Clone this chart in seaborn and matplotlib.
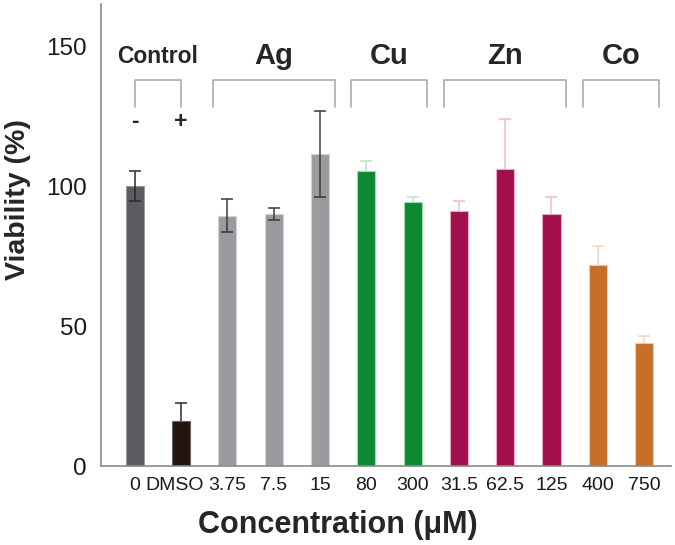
import matplotlib
matplotlib.use('Agg')
import matplotlib.pyplot as plt
import matplotlib.transforms as mtransforms
import pandas as pd
import seaborn as sns

# data
concentrations = ['0', 'DMSO', '3.75', '7.5', '15', '80', '300',
                  '31.5', '62.5', '125', '400', '750']
viability = [100, 16, 89.5, 90, 111.5, 105.5, 94.5, 91, 106, 90, 72, 44]
viability_sd = [5.3, 6.7, 6, 2.2, 15.5, 3.7, 1.5, 3.7, 18, 6, 6.7, 2.6]
group = ['Control', 'Control', 'Ag', 'Ag', 'Ag', 'Cu', 'Cu',
         'Zn', 'Zn', 'Zn', 'Co', 'Co']
group_names = ['Control', 'Ag', 'Cu', 'Zn', 'Co']
control_signs = ['-', '+']

bar_colors = ['#5d5c61', '#221510', '#9c9a9f', '#9c9a9f', '#9c9a9f',
              '#0d8931', '#0d8931', '#a30f4c', '#a30f4c', '#a30f4c',
              '#c66f29', '#c66f29']
edge_colors = ['#9a9a9e', '#6a605c', '#d2d1d4', '#d2d1d4', '#d2d1d4',
               '#a6d6b2', '#a6d6b2', '#e9a9c0', '#e9a9c0', '#e9a9c0',
               '#f2c9a6', '#f2c9a6']
err_colors = ['#2b2b2b', '#2b2b2b', '#3a3a3a', '#3a3a3a', '#3a3a3a',
              '#bfe0c6', '#bfe0c6', '#f2bccb', '#f2bccb', '#f2bccb',
              '#f7d2b6', '#f7d2b6']
# error bars drawn over the bar (grey groups) or hidden behind it
err_on_top = [True, False, True, True, True, False, False,
              False, False, False, False, False]

FONT = ['Liberation Sans', 'DejaVu Sans']
BRACKET = '#ababab'


def brackets(ax, df):
    y_top, y_low = 138, 128.3
    for name in group_names:
        idx = df.index[df.group == name]
        lo, hi = idx.min(), idx.max()
        pad = 0.0 if name == 'Control' else 0.32
        x0, x1 = lo - pad, hi + pad
        ax.plot([x0, x0, x1, x1], [y_low, y_top, y_top, y_low],
                color=BRACKET, lw=1.2, clip_on=False, zorder=1)
        size = 16.5 if name == 'Control' else 21
        ax.text((x0 + x1) / 2, 146.5, name, ha='center', va='center',
                fontsize=size, fontweight='bold', family=FONT)
        if name == 'Control':
            for i, s in zip(idx, control_signs):
                ax.text(i, 123.3, s, ha='center', va='center',
                        fontsize=16.5, fontweight='bold', family=FONT)


def plot(df):
    fig = plt.figure(figsize=(6.75, 5.45), dpi=100)
    ax = fig.add_axes([0.1496, 0.1444, 0.8444, 0.8483])

    sns.barplot(data=df, x='conc', y='viability', hue='conc',
                palette=bar_colors, saturation=1, legend=False, width=0.39,
                errorbar=None, ax=ax, zorder=2)
    for patch, ec in zip(ax.patches, edge_colors):
        patch.set_edgecolor(ec)
        patch.set_linewidth(0.8)

    for i, row in df.iterrows():
        ax.errorbar(i, row.viability, yerr=row.sd, fmt='none',
                    ecolor=err_colors[i], elinewidth=1.1, capsize=4.5,
                    capthick=1.1, zorder=3 if err_on_top[i] else 1)

    brackets(ax, df)

    ax.set_xlim(-0.73, 11.58)
    ax.set_ylim(0, 165.1)
    ax.set_yticks([0, 50, 100, 150])

    for s in ['top', 'right']:
        ax.spines[s].set_visible(False)
    for s in ['left', 'bottom']:
        ax.spines[s].set_color('#8a8a8a')
        ax.spines[s].set_linewidth(1.2)

    ax.tick_params(axis='y', direction='in', length=9, width=1.1,
                   color='#8a8a8a', labelsize=17.5, pad=10, labelcolor='#1a1a1a')
    ax.tick_params(axis='x', length=0, labelsize=14, pad=8, labelcolor='#1a1a1a')
    for lab in ax.get_xticklabels() + ax.get_yticklabels():
        lab.set_family(FONT)
    # nudge DMSO a little left so it doesn't run into 3.75
    shift = mtransforms.ScaledTranslation(-5 / 72, 0, fig.dpi_scale_trans)
    dmso = ax.get_xticklabels()[1]
    dmso.set_transform(dmso.get_transform() + shift)

    ax.set_xlabel('Concentration (\u03bcM)', fontsize=22, fontweight='bold',
                  family=FONT)
    ax.set_ylabel('Viability (%)', fontsize=20.5, fontweight='bold', family=FONT)
    ax.xaxis.set_label_coords(0.416, -0.094)
    ax.yaxis.set_label_coords(-0.122, 0.576)

    fig.savefig('out.png', dpi=100)


if __name__ == '__main__':
    sns.set_style('white')
    plt.rcParams['font.family'] = FONT
    data = pd.DataFrame({'conc': concentrations, 'viability': viability,
                         'sd': viability_sd, 'group': group})
    plot(data)
